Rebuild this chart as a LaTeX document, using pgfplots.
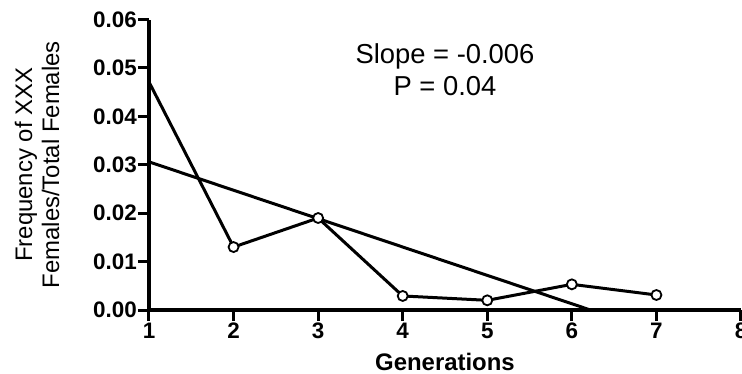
\documentclass[border=0pt]{standalone}
\usepackage{pgfplots}
\pgfplotsset{compat=1.18}
\usepackage{fontspec}
\setmainfont{Liberation Sans}
\begin{document}
\begin{tikzpicture}
\begin{axis}[
  scale only axis, width=592bp, height=290.5bp,
  at={(0,0)}, anchor=south west,
  xmin=1, xmax=8, ymin=0, ymax=0.06,
  axis x line=bottom, axis y line=left,
  axis line style={line width=3.5bp, -},
  xtick={1,2,3,4,5,6,7,8},
  ytick={0,0.01,0.02,0.03,0.04,0.05,0.06},
  scaled y ticks=false,
  tick align=outside, major tick length=11bp,
  every tick/.style={line width=3bp, black},
  /pgf/number format/assume math mode=true,
  tick label style={font=\fontsize{22.5}{22.5}\selectfont\bfseries},
  yticklabel={\pgfmathprintnumber[fixed,fixed zerofill,precision=2]{\tick}},
  yticklabel style={inner sep=1bp},
  xticklabel style={inner sep=2bp},
  ylabel={Frequency of XXX\\Females/Total Females},
  ylabel style={at={(axis description cs:-0.189,0.5)}, anchor=center, align=center, font=\fontsize{24}{27}\selectfont},
  xlabel={Generations},
  xlabel style={at={(axis description cs:0.5,-0.180)}, anchor=center, font=\fontsize{24}{24}\selectfont\bfseries},
  clip=false,
]
\addplot[black, line width=3bp, no marks] coordinates {
  (1,0.0471) (2,0.0130) (3,0.0190) (4,0.0029) (5,0.0020) (6,0.0053) (7,0.0031)
};
\addplot[black, only marks, mark=*, mark size=5bp, mark options={fill=white, draw=black, line width=1.8bp}] coordinates {
  (2,0.0130) (3,0.0190) (4,0.0029) (5,0.0020) (6,0.0053) (7,0.0031)
};
\addplot[black, line width=3bp, no marks] coordinates {
  (1,0.0306) (6.22,0)
};
\node[align=center, font=\fontsize{27.5}{32}\selectfont] at (axis cs:4.5,0.0496) {Slope = -0.006\\P = 0.04};
\end{axis}
\pgfresetboundingbox
\path[use as bounding box] (-149bp,-64bp) rectangle (593bp,310bp);
\end{tikzpicture}
\end{document}
